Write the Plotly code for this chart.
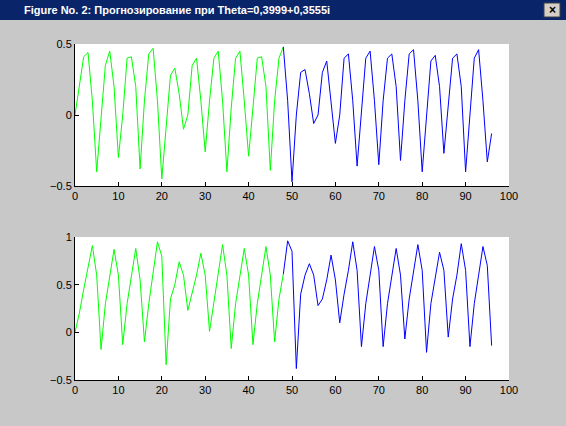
import plotly.graph_objects as go

x = list(range(97))
top = [0, 0.2, 0.41, 0.44, 0.1, -0.4, -0.05, 0.35, 0.45, 0.2, -0.3, 0.0, 0.4, 0.41, 0.2, -0.38,
       0.1, 0.43, 0.47, 0.1, -0.45, -0.1, 0.28, 0.33, 0.15, -0.1, 0.0, 0.35, 0.4, 0.1, -0.26,
       0.1, 0.4, 0.45, 0.1, -0.4, 0.05, 0.4, 0.45, 0.1, -0.29, 0.05, 0.4, 0.41, 0.2, -0.39,
       0.1, 0.4, 0.48, 0.1, -0.47, 0.0, 0.3, 0.32, 0.15, -0.06, 0.0, 0.3, 0.38, 0.1, -0.2,
       0.0, 0.4, 0.43, 0.1, -0.36, 0.05, 0.4, 0.45, 0.1, -0.35, 0.1, 0.4, 0.43, 0.2, -0.32,
       0.1, 0.43, 0.46, 0.1, -0.4, 0.0, 0.38, 0.42, 0.2, -0.27, 0.05, 0.4, 0.43, 0.2, -0.4,
       0.0, 0.4, 0.46, 0.1, -0.33, -0.13]
bottom = [0, 0.2, 0.45, 0.7, 0.91, 0.6, -0.18, 0.3, 0.6, 0.87, 0.6, -0.13, 0.3, 0.6, 0.88, 0.55,
          -0.1, 0.3, 0.6, 0.95, 0.8, -0.34, 0.35, 0.5, 0.74, 0.6, 0.23, 0.4, 0.6, 0.83, 0.6,
          0.01, 0.3, 0.6, 0.92, 0.6, -0.17, 0.3, 0.6, 0.88, 0.6, -0.13, 0.3, 0.6, 0.9, 0.6,
          -0.1, 0.35, 0.61, 0.96, 0.85, -0.38, 0.4, 0.6, 0.72, 0.6, 0.28, 0.35, 0.55, 0.81, 0.55,
          0.1, 0.4, 0.65, 0.95, 0.65, -0.15, 0.3, 0.6, 0.9, 0.65, -0.15, 0.3, 0.6, 0.88, 0.6,
          -0.07, 0.35, 0.65, 0.92, 0.65, -0.21, 0.3, 0.55, 0.84, 0.65, -0.05, 0.35, 0.6, 0.93,
          0.65, -0.15, 0.3, 0.6, 0.9, 0.7, -0.14]
split = 48
title = "Figure No. 2: Прогнозирование при Theta=0,3999+0,3555i"

fig = go.Figure()
for y, ax in ((top, ""), (bottom, "2")):
    fig.add_trace(go.Scatter(x=x[:split + 1], y=y[:split + 1], mode="lines",
                             line=dict(color="#00ff00", width=1), xaxis="x" + ax, yaxis="y" + ax))
    fig.add_trace(go.Scatter(x=x[split:], y=y[split:], mode="lines",
                             line=dict(color="#0000ff", width=1), xaxis="x" + ax, yaxis="y" + ax))

axcommon = dict(showgrid=False, zeroline=False, showline=True, linecolor="black", linewidth=1,
                ticks="inside", ticklen=4, tickcolor="black", mirror=False, automargin=False,
                tickfont=dict(family="Arial", size=11, color="black"))
W, H = 566, 426
fig.update_layout(
    width=W, height=H, margin=dict(l=0, r=0, t=0, b=0), showlegend=False,
    paper_bgcolor="#c8c8c8", plot_bgcolor="white",
    xaxis=dict(domain=[75 / W, 509 / W], range=[0, 100], dtick=10, anchor="y", **axcommon),
    yaxis=dict(domain=[1 - 186 / H, 1 - 44 / H], range=[-0.5, 0.5], dtick=0.5, anchor="x", **axcommon),
    xaxis2=dict(domain=[75 / W, 509 / W], range=[0, 100], dtick=10, anchor="y2", **axcommon),
    yaxis2=dict(domain=[1 - 380 / H, 1 - 237 / H], range=[-0.5, 1], dtick=0.5, anchor="x2", **axcommon),
    shapes=[dict(type="rect", xref="paper", yref="paper", x0=0, x1=1, y0=1 - 20 / H, y1=1,
                 fillcolor="#0a246a", line=dict(width=0), layer="below"),
            dict(type="rect", xref="paper", yref="paper", x0=1 - 22 / W, x1=1 - 6 / W,
                 y0=1 - 17 / H, y1=1 - 3 / H, fillcolor="#d4d0c8",
                 line=dict(width=1, color="#404040"))],
    annotations=[dict(text="<b>" + title + "</b>", xref="paper", yref="paper", x=22 / W,
                      y=1 - 10 / H, xanchor="left", yanchor="middle", showarrow=False,
                      font=dict(family="Arial", size=11, color="white")),
                 dict(text="<b>×</b>", xref="paper", yref="paper", x=1 - 14 / W,
                      y=1 - 10 / H, xanchor="center", yanchor="middle", showarrow=False,
                      font=dict(family="Arial", size=12, color="black"))],
)
fig.write_html("out.html", config={"displayModeBar": False})
with open("out.html", encoding="utf-8") as f:
    html = f.read()
html = html.replace("<head>", "<head><style>html,body{margin:0;padding:0;overflow:hidden}</style>", 1)
with open("out.html", "w", encoding="utf-8") as f:
    f.write(html)
